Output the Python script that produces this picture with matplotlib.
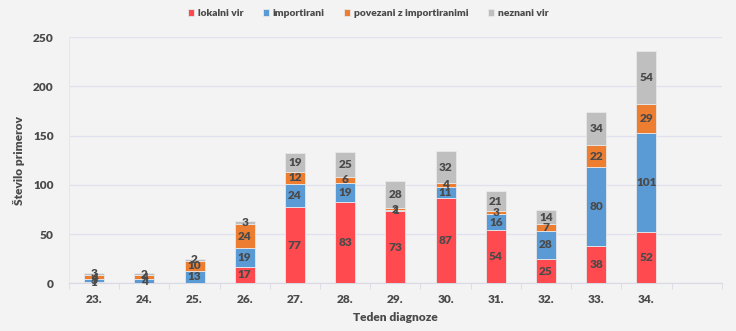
import matplotlib
matplotlib.use("Agg")
import matplotlib.pyplot as plt
import numpy as np

plt.rcParams['font.family'] = ['Lato', 'DejaVu Sans']

weeks = ["23.", "24.", "25.", "26.", "27.", "28.", "29.", "30.", "31.", "32.", "33.", "34."]
lokalni = [1, 0, 0, 17, 77, 83, 73, 87, 54, 25, 38, 52]
importirani = [3, 4, 13, 19, 24, 19, 1, 11, 16, 28, 80, 101]
povezani = [4, 4, 10, 24, 12, 6, 2, 4, 3, 7, 22, 29]
neznani = [3, 2, 2, 3, 19, 25, 28, 32, 21, 14, 34, 54]

series = [
    ("lokalni vir", lokalni, "#ff4b4f"),
    ("importirani", importirani, "#5b9bd5"),
    ("povezani z importiranimi", povezani, "#ed7d31"),
    ("neznani vir", neznani, "#bfbfbf"),
]

bg = "#f3f3f3"
txt = "#4a4a4a"
fs = 8.6
fig = plt.figure(figsize=(7.36, 3.31), dpi=100, facecolor=bg)
ax = fig.add_axes([0.0938, 0.144, 0.8868, 0.744])
ax.set_facecolor(bg)

x = np.arange(len(weeks)) + 0.5
bottom = np.zeros(len(weeks))
for name, vals, col in series:
    v = np.array(vals, dtype=float)
    ax.bar(x, v, width=0.4, bottom=bottom, color=col, label=name,
           edgecolor="#e8e8e8", linewidth=0.6, zorder=3)
    for xi, b, val in zip(x, bottom, v):
        if val > 0:
            ax.text(xi, b + val / 2, f"{int(val)}", ha="center", va="center",
                    fontsize=fs, fontweight="heavy", color=txt, zorder=4)
    bottom += v

ax.set_xlim(0, 13)
ax.set_ylim(0, 250)
ax.set_yticks([0, 50, 100, 150, 200, 250])
ax.set_xticks(x)
ax.set_xticklabels(weeks)
ax.set_xticks(np.arange(0, 14), minor=True)
ax.tick_params(axis="x", which="major", length=0, pad=8, labelsize=fs, labelcolor=txt)
ax.tick_params(axis="x", which="minor", length=4, color="#d9d9e6", direction="out")
ax.tick_params(axis="y", length=0, pad=11, labelsize=fs, labelcolor=txt)
for lab in ax.get_xticklabels() + ax.get_yticklabels():
    lab.set_fontweight("heavy")

ax.grid(axis="y", color="#dfe1ee", linewidth=0.9, zorder=0)
for s in ["top", "right"]:
    ax.spines[s].set_visible(False)
ax.spines["bottom"].set_color("#d9d9e6")
ax.spines["left"].set_color("#e6e7f0")

ax.set_ylabel("Število primerov", fontsize=fs, fontweight="heavy", color=txt, labelpad=6)
ax.set_xlabel("Teden diagnoze", fontsize=fs, fontweight="heavy", color=txt, labelpad=5)

leg = fig.legend(loc="upper center", bbox_to_anchor=(0.5, 1.0), ncol=4, frameon=False,
                 fontsize=7.4, handlelength=0.6, handleheight=0.6, handletextpad=0.35,
                 columnspacing=1.9)
for t in leg.get_texts():
    t.set_color(txt)
    t.set_fontweight("heavy")

fig.savefig("out.png", dpi=100, facecolor=bg)
